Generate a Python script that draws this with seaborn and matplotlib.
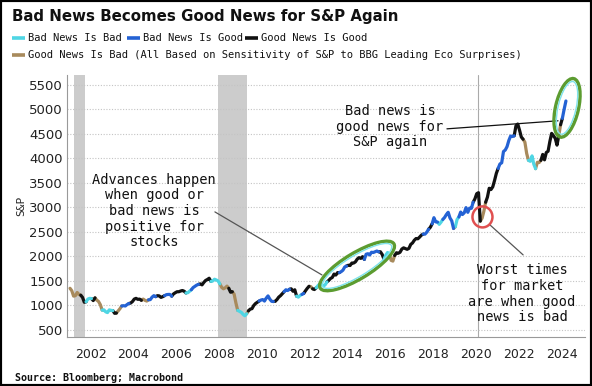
import numpy as np
import pandas as pd
import matplotlib
matplotlib.use("Agg")
import matplotlib.pyplot as plt
import matplotlib.transforms as mtransforms
from matplotlib.patches import Ellipse, Rectangle
from matplotlib.lines import Line2D
import seaborn as sns

# ---------------- data ----------------
years = list(range(2001, 2025))
spx = [
    [1350, 1300, 1190, 1200, 1265, 1225, 1210, 1165, 1065, 1075, 1130, 1145],  # 2001
    [1140, 1100, 1155, 1110, 1080, 1015, 905, 910, 870, 855, 910, 900],        # 2002
    [895, 840, 845, 890, 935, 990, 995, 990, 1020, 1040, 1050, 1080],          # 2003
    [1130, 1145, 1125, 1130, 1105, 1130, 1105, 1090, 1115, 1120, 1170, 1200],  # 2004
    [1180, 1200, 1195, 1165, 1180, 1200, 1220, 1225, 1225, 1190, 1235, 1260],  # 2005
    [1280, 1280, 1295, 1305, 1290, 1255, 1260, 1290, 1320, 1365, 1390, 1415],  # 2006
    [1430, 1440, 1420, 1470, 1510, 1530, 1555, 1490, 1500, 1535, 1520, 1500],  # 2007
    [1440, 1370, 1340, 1360, 1395, 1350, 1270, 1280, 1230, 1050, 900, 880],    # 2008
    [860, 820, 790, 830, 890, 925, 935, 1000, 1040, 1065, 1090, 1110],         # 2009
    [1120, 1090, 1150, 1195, 1130, 1085, 1080, 1085, 1120, 1170, 1200, 1240],  # 2010
    [1280, 1320, 1305, 1330, 1340, 1290, 1320, 1190, 1170, 1205, 1225, 1245],  # 2011
    [1300, 1350, 1390, 1385, 1340, 1325, 1360, 1405, 1440, 1435, 1395, 1420],  # 2012
    [1480, 1510, 1550, 1570, 1640, 1620, 1670, 1670, 1690, 1720, 1785, 1805],  # 2013
    [1820, 1815, 1865, 1865, 1890, 1945, 1975, 1960, 1995, 1940, 2045, 2055],  # 2014
    [2030, 2085, 2080, 2095, 2110, 2095, 2095, 2040, 1945, 2025, 2080, 2055],  # 2015
    [1920, 1905, 2020, 2075, 2065, 2085, 2150, 2175, 2160, 2145, 2165, 2245],  # 2016
    [2275, 2330, 2365, 2360, 2395, 2435, 2455, 2455, 2495, 2555, 2595, 2665],  # 2017
    [2790, 2705, 2700, 2655, 2700, 2755, 2795, 2855, 2900, 2785, 2725, 2570],  # 2018
    [2605, 2755, 2805, 2905, 2855, 2890, 2995, 2900, 2985, 2980, 3105, 3175],  # 2019
    [3280, 3300, 2720, 2780, 2920, 3105, 3210, 3390, 3365, 3420, 3550, 3695],  # 2020
    [3795, 3885, 3910, 4140, 4170, 4240, 4365, 4455, 4445, 4460, 4665, 4700],  # 2021
    [4575, 4435, 4390, 4330, 4100, 3960, 3940, 4050, 3880, 3790, 3920, 3915],  # 2022
    [3960, 4080, 3970, 4120, 4145, 4345, 4510, 4460, 4410, 4270, 4460, 4685],  # 2023
    [4815, 5000, 5170],                                                        # 2024
]
# regime per month: c = Bad News Is Bad, b = Bad News Is Good,
# k = Good News Is Good, n = Good News Is Bad
regimes = [
    "nnnnnnkkkccc", "kknnnncccccc", "kknnnbbbbkkk", "kkkknnnnbbbb",
    "kkkkkbbbbkkk", "kkkkkcccbbbb", "kkkkkkkccccc", "nnnnnkknnncc",
    "cccnkkkkkkbb", "bbbbbbnkkkkk", "bbbkkkkcccbk", "kknnkkcccccc",
    "kkkkkkkbbbbk", "kkkkkkkkkbbb", "bbbbbkkkcccn", "nnkkkkkkkkkk",
    "kkkkkkbbbkkb", "bbcccbbbbbbn", "ccbbbbbbbbkk", "kknnnkkkkkkk",
    "bbbbbbbbbkkk", "kknnnccccnnn", "kkkkkkkkkknk", "bbb",
]
regime_names = {"c": "Bad News Is Bad", "b": "Bad News Is Good",
                "k": "Good News Is Good", "n": "Good News Is Bad"}
regime_colors = {"Bad News Is Bad": "#4fd6e4", "Bad News Is Good": "#2462d4",
                 "Good News Is Good": "#111111", "Good News Is Bad": "#a88a5c"}
legend_row2_text = "Good News Is Bad (All Based on Sensitivity of S&P to BBG Leading Eco Surprises)"
recessions = [(2001.21, 2001.75), (2007.94, 2009.32)]
covid_line = 2020.12
y_ticks = list(range(500, 5501, 500))
x_ticks = list(range(2002, 2025, 2))

# ---------------- build tidy frame with runs ----------------
t, v, r = [], [], []
for yr, vals, codes in zip(years, spx, regimes):
    for m, (val, code) in enumerate(zip(vals, codes)):
        t.append(yr + (m + 0.5) / 12)
        v.append(val)
        r.append(regime_names[code])
rows = []
run = 0
start = 0
n = len(t)
for i in range(1, n + 1):
    if i == n or r[i] != r[start]:
        end = min(i, n - 1)
        for j in range(start, end + 1):
            rows.append((t[j], v[j], r[start], run))
        run += 1
        start = i
df = pd.DataFrame(rows, columns=["t", "spx", "regime", "run"])

# ---------------- figure ----------------
sns.set_theme(style="white")
plt.rcParams["font.family"] = ["DejaVu Sans"]
W, H = 592, 386
fig = plt.figure(figsize=(W / 100, H / 100), dpi=100)
ax = fig.add_axes([67 / W, 1 - 337 / H, 518 / W, 262 / H])

ax.set_xlim(2000.9, 2025.1)
ax.set_ylim(357, 5700)

for a, b in recessions:
    ax.axvspan(a, b, color="#cccccc", lw=0, zorder=0)
ax.axvline(covid_line, color="#aaaaaa", lw=0.8, zorder=0.5)

ax.set_yticks(y_ticks)
ax.set_xticks(x_ticks)
ax.yaxis.grid(True, linestyle=(0, (1, 1.5)), color="#c4c4c4", lw=0.8)
ax.xaxis.grid(False)
ax.set_axisbelow(True)

sns.lineplot(data=df, x="t", y="spx", hue="regime", units="run", estimator=None,
             palette=regime_colors, legend=False, linewidth=2.3, sort=False, ax=ax,
             zorder=3)

for s in ["top", "right"]:
    ax.spines[s].set_visible(False)
for s in ["left", "bottom"]:
    ax.spines[s].set_color("#999999")
    ax.spines[s].set_linewidth(0.8)
ax.tick_params(axis="x", length=4, width=0.8, color="#999999", labelsize=9,
               labelcolor="#222222", pad=4, direction="out")
ax.tick_params(axis="y", length=0, labelsize=9.5, labelcolor="#222222", pad=3)
ax.set_xlabel("")
ax.set_ylabel("S&P", family="DejaVu Sans Mono", fontsize=8, labelpad=2)

# ---------------- ellipses / circle ----------------
def ell(xc, yc, w_px, h_px, ang, color, lw, z=4):
    tr = fig.dpi_scale_trans + mtransforms.ScaledTranslation(xc, yc, ax.transData)
    e = Ellipse((0, 0), w_px / 100, h_px / 100, angle=ang, transform=tr,
                fill=False, edgecolor=color, lw=lw, zorder=z, clip_on=False)
    fig.add_artist(e)

ell(2014.45, 1806, 86, 26, 31, "#5c9c30", 2.4)
ell(2014.45, 1806, 80, 21, 31, "#7fe3ea", 1.0)
ell(2024.26, 5030, 60, 23, 77, "#5c9c30", 2.4)
ell(2024.26, 5030, 54, 18, 77, "#7fe3ea", 1.0)
ell(2020.31, 2806, 20, 21, 0, "#e05050", 1.8)

# ---------------- annotations ----------------
mono = "DejaVu Sans Mono"
ax.text(2004.97, 2929, "Advances happen\nwhen good or\nbad news is\npositive for\nstocks",
        ha="center", va="center", family=mono, fontsize=9.8, linespacing=1.15,
        color="#111111", zorder=5)
ax.annotate("", xy=(2012.81, 1623), xytext=(2007.81, 2908),
            arrowprops=dict(arrowstyle="-", color="#555555", lw=0.9,
                            shrinkA=0, shrinkB=0), zorder=5)
ax.text(2015.99, 4643, "Bad news is\ngood news for\nS&P again",
        ha="center", va="center", family=mono, fontsize=9.8, linespacing=1.15,
        color="#111111", zorder=5)
ax.annotate("", xy=(2023.84, 4766), xytext=(2018.65, 4602),
            arrowprops=dict(arrowstyle="-", color="#111111", lw=0.9,
                            shrinkA=0, shrinkB=0), zorder=5)
ax.text(2022.16, 1235, "Worst times\nfor market\nare when good\nnews is bad",
        ha="center", va="center", family=mono, fontsize=9.8, linespacing=1.15,
        color="#111111", zorder=5)
ax.annotate("", xy=(2020.66, 2643), xytext=(2022.21, 2031),
            arrowprops=dict(arrowstyle="-", color="#555555", lw=0.9,
                            shrinkA=0, shrinkB=0), zorder=5)

# ---------------- title / legend / source ----------------
fig.text(12 / W, 1 - 17 / H, "Bad News Becomes Good News for S&P Again",
         fontsize=10.8, fontweight="bold", va="center", ha="left", color="#111111")

def handle(x0, y, color):
    fig.add_artist(Line2D([x0 / W, (x0 + 13) / W], [1 - y / H, 1 - y / H],
                          transform=fig.transFigure, color=color, lw=2.6,
                          solid_capstyle="butt"))

leg_items = [("Bad News Is Bad", 12, 38), ("Bad News Is Good", 127, 38),
             ("Good News Is Good", 245, 38)]
for name, x0, y in leg_items:
    handle(x0, y, regime_colors[name])
    fig.text((x0 + 16) / W, 1 - y / H, name, family=mono, fontsize=7.5,
             va="center", ha="left", color="#111111")
handle(12, 55, regime_colors["Good News Is Bad"])
fig.text(28 / W, 1 - 55 / H, legend_row2_text, family=mono, fontsize=7.5,
         va="center", ha="left", color="#111111")

fig.text(15 / W, 1 - 378 / H, "Source: Bloomberg; Macrobond", family=mono,
         fontsize=7.2, fontweight="bold", va="center", ha="left", color="#111111")

fig.add_artist(Rectangle((0, 0), 1, 1, transform=fig.transFigure, fill=False,
                         edgecolor="black", lw=3))

fig.savefig("out.png", dpi=100)
